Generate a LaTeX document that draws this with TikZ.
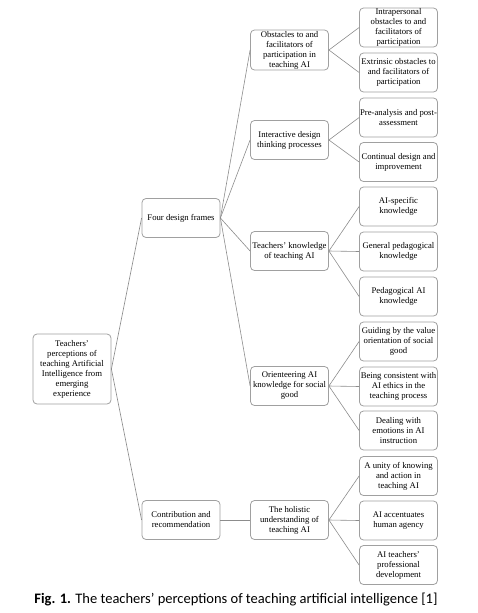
\documentclass[tikz,border=0pt]{standalone}
\usepackage{fontspec}
\setmainfont{Liberation Serif}
\newfontfamily\capfont{Carlito}
\definecolor{boxgray}{HTML}{A0A0A0}
\definecolor{linegray}{HTML}{8C8C8C}
\tikzset{
  box/.style={draw=boxgray, line width=0.8pt, rounded corners=4pt, minimum width=78pt, minimum height=39pt, inner sep=0pt, align=center, font=\fontsize{8.7}{10}\selectfont},
  link/.style={draw=linegray, line width=0.6pt}
}
\begin{document}
\begin{tikzpicture}[x=1pt, y=-1pt]
        \useasboundingbox (0,0) rectangle (478,613);

        \node[box, minimum height=70pt] (root) at (72,369) {Teachers'\\perceptions of\\teaching Artificial\\Intelligence from\\emerging\\experience};

        \node[box] (frames) at (181,218) {Four design frames};
        \node[box] (contrib) at (181,520) {Contribution and\\recommendation};

        \node[box, minimum height=40pt] (obst) at (289.5,50) {Obstacles to and\\facilitators of\\participation in\\teaching AI};
        \node[box] (design) at (289.5,140) {Interactive design\\thinking processes};
        \node[box] (know) at (289.5,251) {Teachers' knowledge\\of teaching AI};
        \node[box] (good) at (289.5,386) {Orienteering AI\\knowledge for social\\good};
        \node[box] (holist) at (289.5,520) {The holistic\\understanding of\\teaching AI};

        \node[box] (intra) at (398.5,27.5) {Intrapersonal\\obstacles to and\\facilitators of\\participation};
        \node[box] (extr) at (398.5,72.5) {Extrinsic obstacles to\\and facilitators of\\participation};
        \node[box] (pre) at (398.5,117.5) {Pre-analysis and post-\\assessment};
        \node[box] (cont) at (398.5,162) {Continual design and\\improvement};
        \node[box] (spec) at (398.5,206.5) {AI-specific\\knowledge};
        \node[box] (gen) at (398.5,251.5) {General pedagogical\\knowledge};
        \node[box] (ped) at (398.5,296.5) {Pedagogical AI\\knowledge};
        \node[box] (guide) at (398.5,341.5) {Guiding by the value\\orientation of social\\good};
        \node[box] (ethic) at (398.5,386.5) {Being consistent with\\AI ethics in the\\teaching process};
        \node[box] (emot) at (398.5,430.5) {Dealing with\\emotions in AI\\instruction};
        \node[box] (unity) at (398.5,476) {A unity of knowing\\and action in\\teaching AI};
        \node[box] (agency) at (398.5,520.5) {AI accentuates\\human agency};
        \node[box] (prof) at (398.5,565) {AI teachers'\\professional\\development};

        \foreach \a/\b in {root/frames, root/contrib, frames/obst, frames/design, frames/know, frames/good, contrib/holist, obst/intra, obst/extr, design/pre, design/cont, know/spec, know/gen, know/ped, good/guide, good/ethic, good/emot, holist/unity, holist/agency, holist/prof} {
            \draw[link] (\a.east) -- (\b.west);
        }

        \node[font=\capfont\fontsize{14.5}{16}\selectfont] (caption) at (236,599) {\textbf{Fig. 1.} The teachers’ perceptions of teaching artificial intelligence [1]};
    \end{tikzpicture}
\end{document}
